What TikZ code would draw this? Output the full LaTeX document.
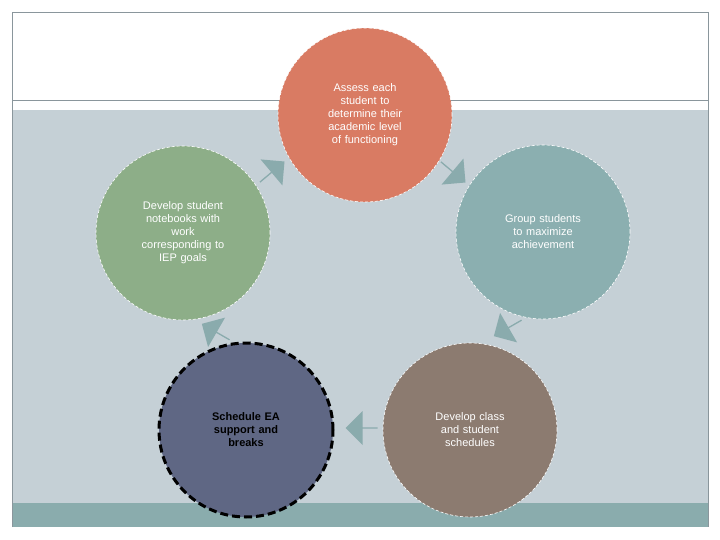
\documentclass[tikz,border=0pt]{standalone}
\usepackage{fontspec}
\setmainfont{Liberation Sans}
\usetikzlibrary{shapes.arrows}
\definecolor{bg}{HTML}{C5D0D6}
\definecolor{bar}{HTML}{8AACAD}
\definecolor{cor}{HTML}{D97B63}
\definecolor{cte}{HTML}{8BAFB0}
\definecolor{cbr}{HTML}{8C7B70}
\definecolor{cnv}{HTML}{5F6784}
\definecolor{cgr}{HTML}{8DAE88}
\definecolor{arr}{HTML}{8AABAD}
\definecolor{frm}{HTML}{8A969C}
\begin{document}
\begin{tikzpicture}[x=1pt,y=-1pt,
  circ/.style={circle,minimum size=174pt,inner sep=0pt,draw=white,densely dashed,line width=0.6pt,text width=125pt,align=center,font=\fontsize{11}{13}\selectfont,text=white},
  blk/.style={single arrow,fill=arr,minimum height=32pt,minimum width=34pt,single arrow head extend=5pt,inner sep=0pt}]
\useasboundingbox (0,0) rectangle (720,540);
\fill[white] (0,0) rectangle (720,540);
\fill[bg] (12,110) rectangle (708,503);
\fill[bar] (12,503) rectangle (708,527);
\draw[frm,line width=0.8pt] (12,527) -- (12,12) -- (708,12) -- (708,527);
\draw[frm,line width=0.8pt] (12,100) -- (708,100);
\node[circ,fill=cor] (a) at (365,115) {Assess each\\student to\\determine their\\academic level\\of functioning};
\node[circ,fill=cte] (b) at (543,232) {Group students\\to maximize\\achievement};
\node[circ,fill=cbr] (c) at (470,430) {Develop class\\and student\\schedules};
\node[circ,fill=cnv,draw=black,dashed,line width=3pt,dash pattern=on 8pt off 4pt,text=black,font=\fontsize{11}{13}\selectfont\bfseries] (d) at (246,430) {Schedule EA\\support and\\breaks};
\node[circ,fill=cgr] (e) at (183,233) {Develop student\\notebooks with\\work\\corresponding to\\IEP goals};
\node[blk,rotate=40] (ar1) at (272,172) {};
\node[blk,rotate=-40] (ar2) at (453,172) {};
\node[blk,rotate=-150] (ar3) at (508,328) {};
\node[blk,rotate=180] (ar4) at (362,428) {};
\node[blk,rotate=150] (ar5) at (216,332) {};
\end{tikzpicture}
\end{document}
